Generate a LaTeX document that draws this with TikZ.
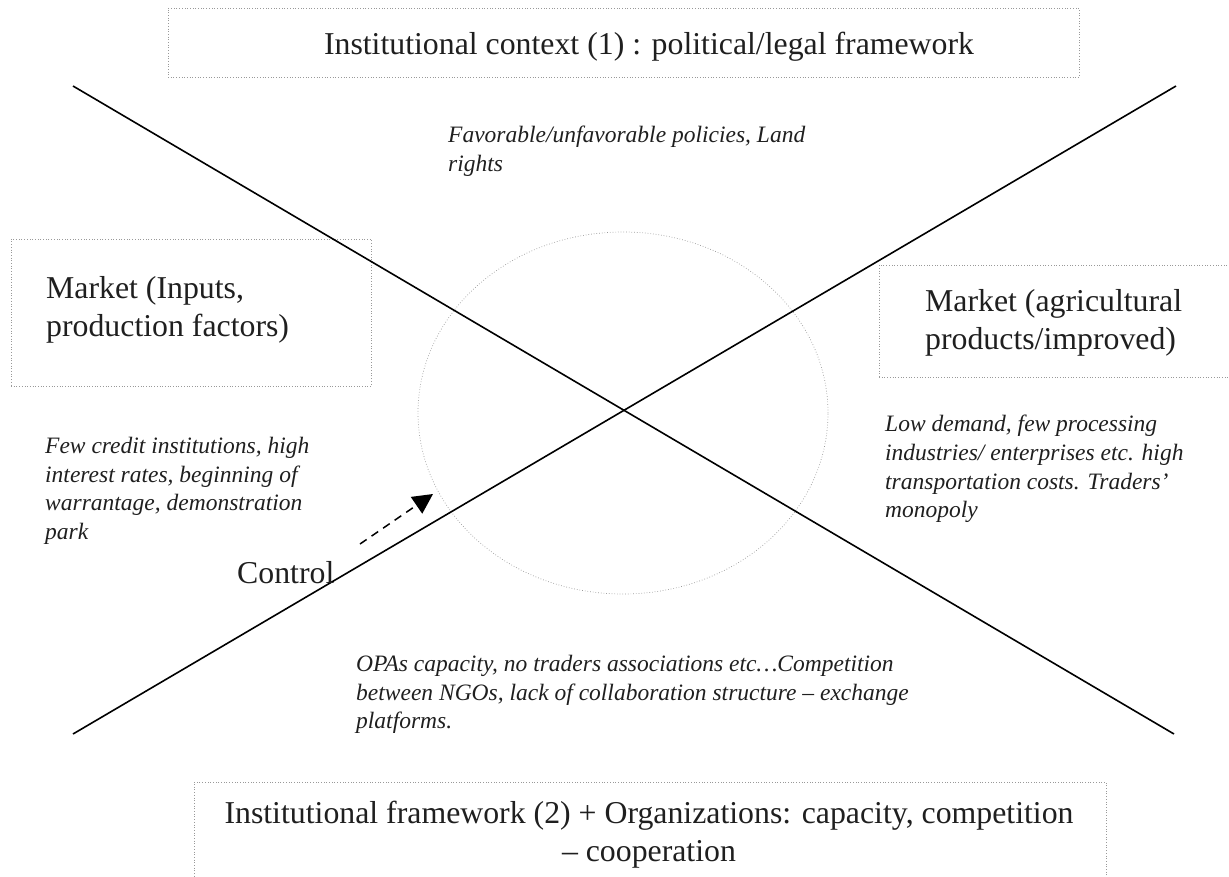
\documentclass[tikz,border=0pt]{standalone}
\usepackage{fontspec}
\setmainfont{Liberation Serif}
\usetikzlibrary{arrows.meta,shapes.geometric}
\begin{document}
\begin{tikzpicture}[x=1pt,y=-1pt,
  dotbox/.style={draw=gray!80, dotted, line width=0.7pt, inner sep=0pt},
  maintext/.style={font=\fontsize{31.8}{38}\selectfont, inner sep=0pt, text=black!88},
  notetext/.style={font=\fontsize{23.5}{28.7}\selectfont\itshape, inner sep=0pt, align=left, anchor=north west, text=black!88},
  axisline/.style={line width=1.6pt},
  ctrlarrow/.style={dashed, dash pattern=on 8pt off 6pt, line width=1.5pt, -{Triangle[length=20pt,width=20pt]}}
]
\useasboundingbox (0,0) rectangle (1229,876);
% boxes
\node[dotbox, minimum width=911pt, minimum height=69pt] (top) at (623.5,42.5) {};
\node[maintext] (toptext) at (649,47) {Institutional context (1) : political/legal framework};
\node[dotbox, minimum width=360pt, minimum height=147pt] (left) at (191,312.5) {};
\node[maintext, align=left, anchor=north west] (lefttext) at (46,276) {Market (Inputs,\\production factors)};
\node[dotbox, minimum width=361pt, minimum height=112pt] (right) at (1059.5,321) {};
\node[maintext, align=left, anchor=north west] (righttext) at (925,289) {Market (agricultural\\products/improved)};
\node[dotbox, minimum width=912pt, minimum height=118pt] (bottom) at (650,841) {};
\node[maintext, align=center, anchor=north] (bottomtext) at (649,801) {Institutional framework (2) + Organizations: capacity, competition\\– cooperation};
% ellipse
\node[draw=gray!80, dotted, line width=0.7pt, ellipse, minimum width=410pt, minimum height=362pt, inner sep=0pt] (ell) at (623,413) {};
% crossing lines
\coordinate (tl) at (73,86);
\coordinate (br) at (1174,734);
\coordinate (bl) at (73,734);
\coordinate (tr) at (1176,86);
\draw[axisline] (tl) -- (br);
\draw[axisline] (bl) -- (tr);
% notes
\node[notetext] (n1) at (448,126) {Favorable/unfavorable policies, Land\\rights};
\node[notetext] (n2) at (45,437) {Few credit institutions, high\\interest rates, beginning of\\warrantage, demonstration\\park};
\node[notetext] (n3) at (885,415) {Low demand, few processing\\industries/ enterprises etc. high\\transportation costs. Traders'\\monopoly};
\node[notetext] (n4) at (356,655) {OPAs capacity, no traders associations etc…Competition\\between NGOs, lack of collaboration structure – exchange\\platforms.};
% control arrow
\coordinate (cs) at (360,544);
\coordinate (ce) at (433,494);
\draw[ctrlarrow] (cs) -- (ce);
\node[maintext, anchor=west] (ctrl) at (237,573) {Control};
\end{tikzpicture}
\end{document}
